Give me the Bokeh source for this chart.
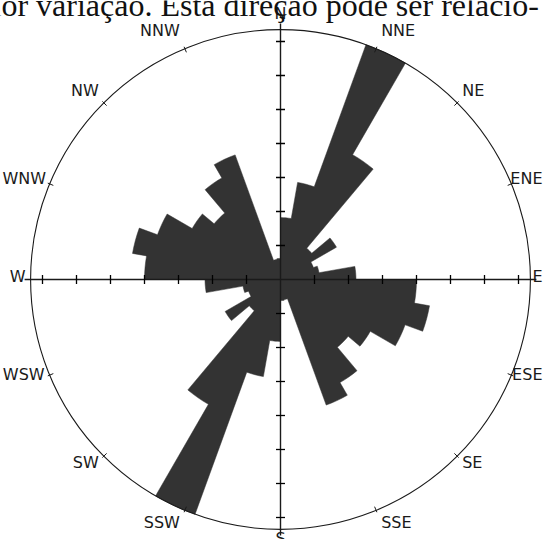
import math
from bokeh.plotting import figure
from bokeh.models import Range1d
from bokeh.core.properties import value
from bokeh.embed import file_html
from bokeh.resources import INLINE

# ---------------- data ----------------
# 10-degree azimuth bins, clockwise from north; radius in tick units
bin_start_deg = [0, 10, 20, 30, 40, 50, 60, 70, 80,
                 90, 100, 110, 120, 130, 140, 150, 160, 170,
                 180, 190, 200, 210, 220, 230, 240, 250, 260,
                 270, 280, 290, 300, 310, 320, 330, 340, 350]
bin_values = [1.82, 2.90, 7.35, 4.24, 1.20, 1.90, 1.03, 1.15, 2.22,
              4.00, 4.45, 3.90, 3.05, 2.60, 3.50, 3.93, 0.60, 0.62,
              1.82, 2.90, 7.35, 4.24, 1.20, 1.88, 1.00, 1.12, 2.22,
              4.00, 4.42, 3.85, 3.00, 2.55, 3.45, 3.90, 0.60, 0.62]
bin_width_deg = 10

direction_labels = ["N", "NNE", "NE", "ENE", "E", "ESE", "SE", "SSE",
                    "S", "SSW", "SW", "WSW", "W", "WNW", "NW", "NNW"]
direction_angles = [0, 22.5, 45, 67.5, 90, 112.5, 135, 157.5,
                    180, 202.5, 225, 247.5, 270, 292.5, 315, 337.5]

radial_ticks = [1, 2, 3, 4, 5, 6, 7]
outer_radius = 7.35

header_text = "ior variação. Esta direção pode ser relacio-"

# ---------------- layout ----------------
PX = 34.0            # pixels per tick unit
W, H = 544, 539      # canvas size
CX, CY = 280, 279    # centre of the rose on the canvas (pixels)
X_LEFT, X_RIGHT = -CX / PX, (W - CX) / PX

p = figure(width=W, height=H, output_backend="svg", toolbar_location=None,
           x_range=Range1d(X_LEFT, X_RIGHT),
           y_range=Range1d(-(H - CY) / PX, CY / PX),
           x_axis_type=None, y_axis_type=None, min_border=0,
           outline_line_color=None, background_fill_color="white",
           border_fill_color="white")
p.grid.visible = False

BAR = "#333333"
INK = "#1a1a1a"

# ---- rose: one outline polygon built from the bins ----
n_sub = 4
rose_x, rose_y = [], []
for a, v in zip(bin_start_deg, bin_values):
    for k in range(n_sub + 1):
        az = math.radians(a + bin_width_deg * k / n_sub)
        rose_x.append(v * math.sin(az))
        rose_y.append(v * math.cos(az))
p.patch(rose_x, rose_y, fill_color=BAR, line_color=BAR, line_width=0.5)

# ---- outer circle ----
p.circle(x=[0], y=[0], radius=outer_radius, fill_color=None,
         line_color=INK, line_width=1.1)

# ---- axes through the centre ----
ext = outer_radius + 6 / PX
p.segment(x0=[-ext, 0], y0=[0, -ext], x1=[ext, 0], y1=[0, ext],
          line_color=INK, line_width=1.4)

# ---- ticks on the axes ----
th = 4.5 / PX
tx0, ty0, tx1, ty1 = [], [], [], []
for t in radial_ticks:
    for s in (1, -1):
        tx0.append(-th); tx1.append(th); ty0.append(s * t); ty1.append(s * t)
        tx0.append(s * t); tx1.append(s * t); ty0.append(-th); ty1.append(th)
p.segment(x0=tx0, y0=ty0, x1=tx1, y1=ty1, line_color="black", line_width=1.3)

# ---- compass ticks on the circle ----
cx0, cy0, cx1, cy1 = [], [], [], []
for a in direction_angles:
    r = math.radians(a)
    r0 = outer_radius - 4 / PX
    r1 = outer_radius + 2 / PX
    cx0.append(r0 * math.sin(r)); cy0.append(r0 * math.cos(r))
    cx1.append(r1 * math.sin(r)); cy1.append(r1 * math.cos(r))
p.segment(x0=cx0, y0=cy0, x1=cx1, y1=cy1, line_color=INK, line_width=1)

# ---- compass labels ----
FONT_PX = 16
glyph_em = {"N": 0.748, "E": 0.632, "S": 0.635, "W": 0.989}
for lab, a in zip(direction_labels, direction_angles):
    r = math.radians(a)
    s, c = math.sin(r), math.cos(r)
    tx = outer_radius * s
    ty = outer_radius * c
    wpx = sum(glyph_em[ch] for ch in lab) * FONT_PX
    if abs(s) < 0.1:
        align = "center"
        lx = tx
        ly = ty + (16 / PX if c > 0 else -9 / PX)
    else:
        gap = 5 / PX
        if s > 0:
            align = "left"
            lx = min(tx + gap, X_RIGHT - (wpx + 2) / PX)
        else:
            align = "right"
            lx = max(tx - gap, X_LEFT + (wpx + 2) / PX)
        ly = ty + (3 + 18 * c * abs(c)) / PX
    p.text(x=[lx], y=[ly], text=[lab], text_align=align, text_baseline="middle",
           text_font=value("DejaVu Sans"), text_font_size=f"{FONT_PX}px",
           text_color="#1a1a1a")

# ---- running text of the page above the figure (cut at the top, as scanned) ----
p.text(x=[(-8 - CX) / PX], y=[(CY - 4) / PX], text=[header_text],
       text_align="left", text_baseline="alphabetic",
       text_font=value("Liberation Serif"), text_font_size="32px",
       text_color="#111111")

open("out.html", "w").write(file_html(p, INLINE))
